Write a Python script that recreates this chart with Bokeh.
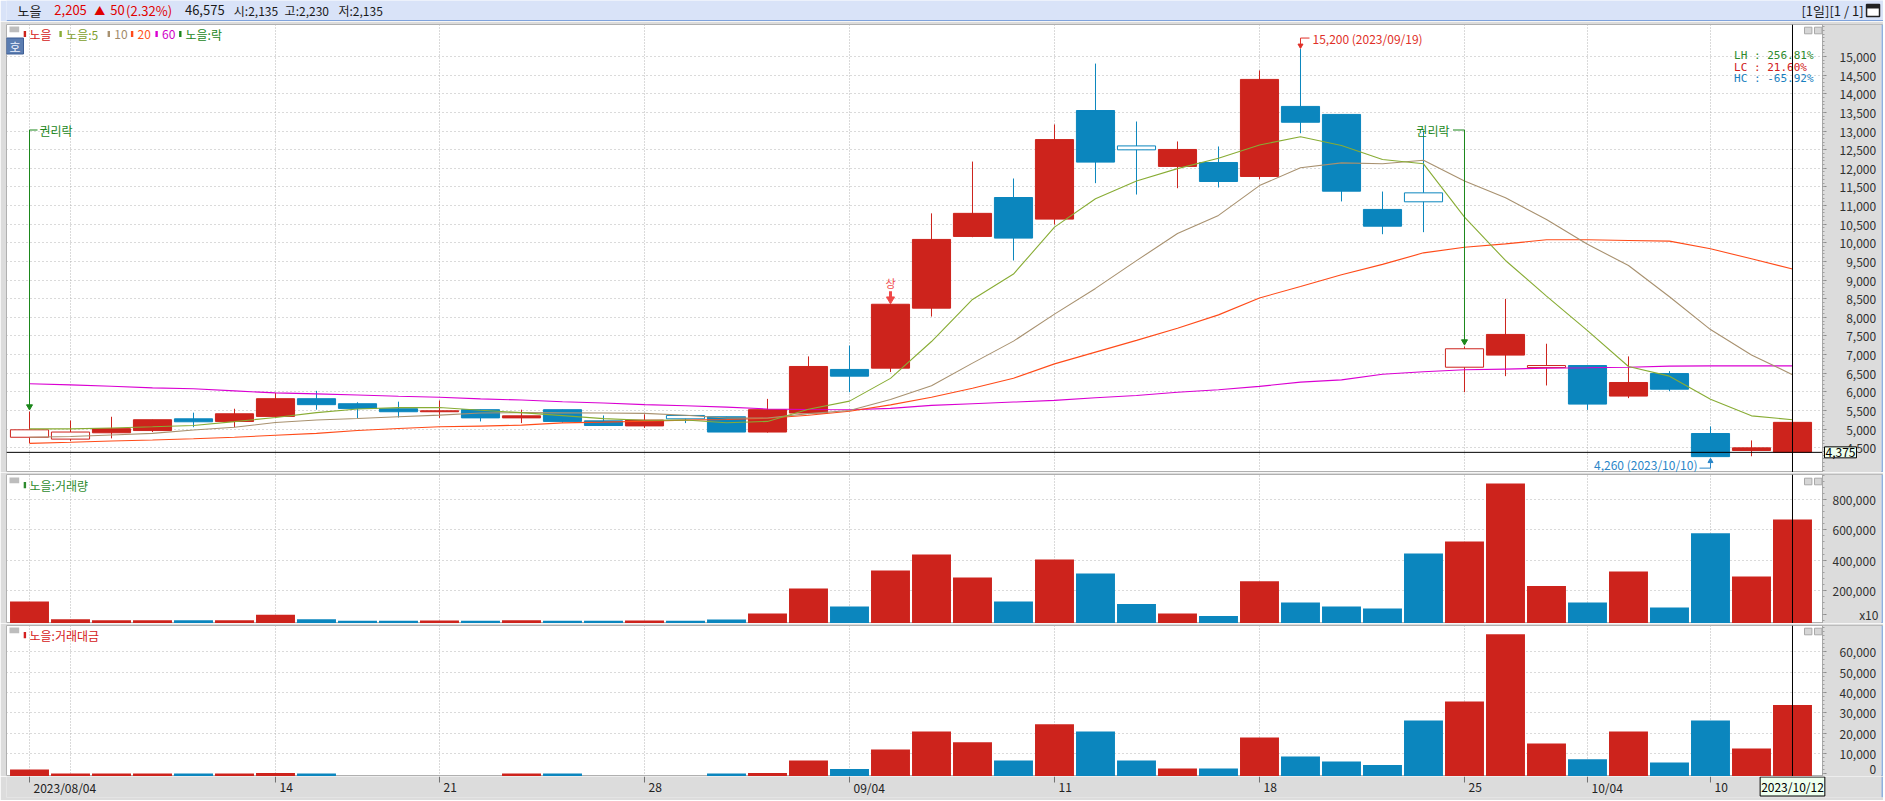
from bokeh.plotting import figure
from bokeh.layouts import column
from bokeh.models import Range1d, FixedTicker, Span, Label, Grid, ColumnDataSource
from bokeh.embed import file_html
from bokeh.resources import INLINE
from bokeh.core.properties import value

# ---------------- chart values ----------------
stock_name = "노을"
quote_price = "2,205"
quote_change = "50"
quote_pct = "(2.32%)"
quote_volume = "46,575"
quote_open = "시:2,135"
quote_high = "고:2,230"
quote_low = "저:2,135"
page_info = "[1일][1 / 1]"

dates = ["2023/08/04", "2023/08/07", "2023/08/08", "2023/08/09", "2023/08/10", "2023/08/11",
         "2023/08/14", "2023/08/16", "2023/08/17", "2023/08/18",
         "2023/08/21", "2023/08/22", "2023/08/23", "2023/08/24", "2023/08/25",
         "2023/08/28", "2023/08/29", "2023/08/30", "2023/08/31", "2023/09/01",
         "2023/09/04", "2023/09/05", "2023/09/06", "2023/09/07", "2023/09/08",
         "2023/09/11", "2023/09/12", "2023/09/13", "2023/09/14", "2023/09/15",
         "2023/09/18", "2023/09/19", "2023/09/20", "2023/09/21", "2023/09/22",
         "2023/09/25", "2023/09/26", "2023/09/27",
         "2023/10/04", "2023/10/05", "2023/10/06",
         "2023/10/10", "2023/10/11", "2023/10/12"]

opens = [4780, 4730, 4900, 4960, 5275, 5205, 5340, 5815, 5680, 5545,
         5465, 5520, 5300, 5520, 5220, 5085, 5365, 5330, 4920, 5430,
         6600, 6635, 8245, 10170, 11215, 10635, 13550, 12600, 12050, 12155,
         11780, 13660, 13445, 10895, 11340, 6660, 6985, 6650, 6705, 5885,
         6490, 4880, 4425, 4380]
highs = [5470, 5230, 5330, 5250, 5440, 5545, 5970, 6025, 5720, 5735,
         5765, 5520, 5520, 5520, 5365, 5395, 5365, 5330, 5810, 6950,
         7240, 8350, 10790, 12180, 11725, 13175, 14810, 13255, 12720, 12585,
         14625, 15200, 13445, 11375, 13015, 7215, 8495, 7290, 6705, 6950,
         6555, 5070, 4695, 5440]
lows = [4620, 4680, 4750, 4920, 5050, 5050, 5310, 5520, 5295, 5310,
        5300, 5205, 5160, 5170, 5095, 5030, 5160, 4920, 4905, 5400,
        5990, 6530, 8020, 10150, 9525, 10490, 11600, 11295, 11465, 11485,
        11700, 12940, 11110, 10230, 10285, 5990, 6420, 6170, 5515, 5830,
        6015, 4260, 4270, 4380]
closes = [4980, 4920, 5010, 5250, 5195, 5410, 5815, 5655, 5555, 5465,
          5490, 5300, 5355, 5205, 5095, 5240, 5275, 4920, 5520, 6680,
          6420, 8350, 10090, 10790, 10125, 12770, 12165, 12495, 12505, 11645,
          14385, 13235, 11385, 10445, 11100, 7155, 7540, 6705, 5670, 6250,
          6070, 4260, 4495, 5180]
hollow = [1, 1, 0, 0, 0, 0, 0, 0, 0, 0,
          0, 0, 0, 0, 0, 0, 1, 0, 0, 0,
          0, 0, 0, 0, 0, 0, 0, 1, 0, 0,
          0, 0, 0, 0, 1, 1, 0, 1, 0, 0,
          0, 0, 0, 0]

ma5 = [5005, 5005, 5030, 5060, 5095, 5200, 5310, 5440, 5540, 5575,
       5580, 5505, 5440, 5360, 5280, 5235, 5245, 5170, 5205, 5530,
       5750, 6360, 7350, 8480, 9160, 10420, 11180, 11660, 11990, 12270,
       12625, 12845, 12610, 12235, 12120, 10690, 9525, 8570, 7640, 6680,
       6420, 5800, 5355, 5250]
ma10 = [4780, 4800, 4840, 4885, 4975, 5050, 5175, 5245, 5285, 5330,
        5375, 5430, 5440, 5435, 5430, 5420, 5370, 5295, 5295, 5415,
        5500, 5795, 6160, 6770, 7360, 8085, 8775, 9520, 10250, 10735,
        11535, 12015, 12145, 12120, 12215, 11660, 11210, 10625, 9960, 9390,
        8550, 7670, 6990, 6460]
ma20 = [4615, 4645, 4680, 4705, 4740, 4780, 4835, 4885, 4960, 5015,
        5060, 5080, 5105, 5165, 5185, 5210, 5240, 5255, 5290, 5370,
        5480, 5650, 5855, 6095, 6365, 6750, 7065, 7380, 7705, 8065,
        8520, 8825, 9140, 9420, 9730, 9880, 9970, 10080, 10080, 10060,
        10045, 9840, 9570, 9295]
ma60 = [6215, 6185, 6150, 6105, 6080, 6025, 5970, 5945, 5915, 5880,
        5855, 5810, 5780, 5735, 5700, 5655, 5625, 5590, 5540, 5525,
        5520, 5555, 5635, 5680, 5725, 5770, 5840, 5900, 5990, 6055,
        6145, 6260, 6320, 6470, 6540, 6590, 6610, 6635, 6645, 6660,
        6690, 6697, 6697, 6697]

volume = [127000, 10000, 3000, 3000, 3000, 3000, 40000, 10000, 1000, 1000,
          1500, 1000, 3000, 1000, 1000, 1500, 1000, 8000, 48000, 213000,
          94000, 332000, 437000, 286000, 127000, 404000, 312000, 111000, 48000, 32000,
          261000, 121000, 94000, 81000, 444000, 523000, 905000, 229000, 121000, 325000,
          88000, 578000, 292000, 668000]
amount = [2100, 100, 100, 100, 100, 100, 400, 100, 0, 0,
          0, 0, 100, 100, 0, 0, 0, 100, 400, 6500,
          2400, 12000, 20800, 15500, 6600, 24400, 20800, 6600, 2600, 2600,
          17900, 8500, 6000, 4300, 26200, 35600, 68700, 14900, 7200, 20800,
          5500, 26200, 12500, 33800]

price_ticks = [4500, 5000, 5500, 6000, 6500, 7000, 7500, 8000, 8500, 9000, 9500, 10000,
               10500, 11000, 11500, 12000, 12500, 13000, 13500, 14000, 14500, 15000]
volume_ticks = [200000, 400000, 600000, 800000]
volume_unit_label = "x10"
amount_ticks = [0, 10000, 20000, 30000, 40000, 50000, 60000]
date_tick_idx = [0, 6, 10, 15, 20, 25, 30, 35, 38, 41]
date_tick_labels = ["2023/08/04", "14", "21", "28", "09/04", "11", "18", "25", "10/04", "10"]
week_grid_idx = [0, 1, 6, 10, 15, 20, 25, 30, 35, 38, 41]

legend_price = ["노을", "노을:5", "10", "20", "60", "노을:락"]
legend_volume = "노을:거래량"
legend_amount = "노을:거래대금"
stat_lines = ["LH : 256.81%", "LC :  21.60%", "HC : -65.92%"]
rights_idx = [0, 35]
rights_text = "권리락"
limit_up_idx = 21
limit_up_text = "상"
period_high_idx = 31
period_high_label = "15,200 (2023/09/19)"
period_low_idx = 41
period_low_label = "4,260 (2023/10/10)"
cross_idx = 43
cross_price = 4375
cross_price_label = "4,375"
cross_date_label = "2023/10/12"

# ---------------- style / layout ----------------
KR = "Noto Sans CJK KR"
MONO = "DejaVu Sans Mono"
RED = "#CD231C"
BLUE = "#0B86BE"
C_MA5 = "#88AC34"
C_MA10 = "#A8916F"
C_MA20 = "#FF4B19"
C_MA60 = "#DA00D2"
GREEN_TXT = "#1B871B"
GRID = "#B4B4B4"
AXBG = "#DCDCDC"
EDGE = "#8FB0E0"
LABEL_BG = "#EEFFEE"

W = 1883
BL = 6            # left border
PW = 1816         # plot area width (candles)
AX = 59           # axis area width
H_TOP = 21
H_PRICE, BT_PRICE = 451, 3
H_VOL, H_AMT, BT = 151, 153, 2
H_DATE = 24
X0, X1 = -0.561, 43.732
UX = (X1 - X0) / PW
XA = X1 + AX * UX                 # end of axis area
XE = X0 + (W - BL) * UX           # end of frame (incl. window edge)
P0, P1 = 3834, 15859
V0, V1 = -17800, 964700
A0, A1 = -1330, 72950
xr = Range1d(X0, XE)
n = len(dates)
idx = list(range(n))

FSP, PSP = "\u2007", "\u2008"


def padded(v, widest):
    s = v if isinstance(v, str) else f"{v:,}"
    nd = sum(ch.isdigit() for ch in widest) - sum(ch.isdigit() for ch in s)
    nc = widest.count(",") - s.count(",")
    return FSP * max(nd, 0) + PSP * max(nc, 0) + s


class Mapper:
    def __init__(self, fh, y0, y1):
        self.fh, self.y0, self.y1 = fh, y0, y1
        self.uy = (y1 - y0) / fh

    def x(self, px):
        return X0 + px * UX

    def xr(self, px):
        return X1 - px * UX

    def y(self, py):
        return self.y1 - py * self.uy


def txt(p, x, y, s, color, size="12px", align="left", baseline="middle", font=KR, x_offset=0):
    p.text(x=[x], y=[y], text=[s], text_color=color, text_font=value(font),
           text_font_size=size, text_align=align, text_baseline=baseline, x_offset=x_offset)


def base_fig(h, bt, y0, y1, ticks, minors, overrides, grid_ticks, standoff):
    p = figure(width=W, height=h, x_range=xr, y_range=Range1d(y0, y1),
               output_backend="svg", toolbar_location=None,
               x_axis_location=None, y_axis_location="right",
               min_border_left=BL, min_border_right=0, min_border_top=bt, min_border_bottom=0)
    p.background_fill_color = "white"
    p.border_fill_color = AXBG
    p.outline_line_color = "#B0B0B0"
    for g in list(p.center):
        if isinstance(g, Grid):
            g.visible = False
    p.add_layout(Grid(dimension=0, ticker=FixedTicker(ticks=week_grid_idx),
                      grid_line_color=GRID, grid_line_dash="1 2"))
    p.add_layout(Grid(dimension=1, ticker=FixedTicker(ticks=grid_ticks),
                      grid_line_color=GRID, grid_line_dash="1 3"))
    # axis area background and window edge
    p.quad(left=[X1], right=[XA], top=[y1], bottom=[y0], fill_color=AXBG, line_color=None)
    p.quad(left=[XA], right=[XE], top=[y1], bottom=[y0], fill_color=EDGE, line_color=None)
    ax = p.yaxis[0]
    ax.fixed_location = X1
    ax.ticker = FixedTicker(ticks=ticks, minor_ticks=minors)
    ax.major_label_overrides = overrides
    ax.major_label_text_font = KR
    ax.major_label_text_font_size = "12px"
    ax.major_label_text_color = "#303030"
    ax.axis_line_color = "#A8A8A8"
    ax.major_tick_line_color = "#8C8C8C"
    ax.major_tick_out = 4
    ax.major_tick_in = 0
    ax.minor_tick_line_color = "#A0A0A0"
    ax.minor_tick_out = 2
    ax.minor_tick_in = 0
    ax.major_label_standoff = standoff
    return p


def panel_icons(p, m, top_px):
    p.quad(left=[m.x(3)], right=[m.x(12.7)], top=[m.y(top_px)], bottom=[m.y(top_px + 5.7)],
           fill_color="#BDBDBD", line_color=None)
    for a, b in [(18, 10.6), (8, 0.6)]:
        p.quad(left=[m.xr(a)], right=[m.xr(b)], top=[m.y(top_px + 0.7)], bottom=[m.y(top_px + 7.3)],
               fill_color="#D6D6D6", line_color="#A8A8A8", line_width=1)


col = [RED if c >= o else BLUE for o, c in zip(opens, closes)]

# ---------------- top bar ----------------
pt = figure(width=W, height=H_TOP, x_range=Range1d(0, W), y_range=Range1d(0, H_TOP),
            output_backend="svg", toolbar_location=None, x_axis_location=None, y_axis_location=None,
            min_border_left=0, min_border_right=0, min_border_top=0, min_border_bottom=0)
pt.background_fill_color = "#D9E3F8"
pt.border_fill_color = "#D9E3F8"
pt.outline_line_color = None
pt.grid.visible = False
pt.segment(x0=[0], y0=[0.8], x1=[W], y1=[0.8], line_color="#7FA3DC", line_width=1.5)
for xp, s, c, sz in [(11, stock_name, "#1A1A1A", "13px"), (48, quote_price, "#E00000", "13px"),
                     (88, "▲", "#E00000", "11px"), (104, quote_change, "#E00000", "13px"),
                     (120, quote_pct, "#E00000", "13px"), (179, quote_volume, "#1A1A1A", "13px"),
                     (228, quote_open, "#1A1A1A", "12px"), (279, quote_high, "#1A1A1A", "12px"),
                     (333, quote_low, "#1A1A1A", "12px")]:
    txt(pt, xp, 11.5, s, c, size=sz)
txt(pt, 1863, 11.5, page_info, "#1A1A1A", size="13px", align="right")
pt.quad(left=[1866], right=[1879], bottom=[5], top=[17], fill_color="white", line_color="#222222", line_width=1.5)
pt.quad(left=[1866], right=[1879], bottom=[13], top=[17], fill_color="#222222", line_color=None)

# ---------------- price panel ----------------
PFH = H_PRICE - BT_PRICE
mp = Mapper(PFH, P0, P1)
po = {t: padded(t, "15,000") for t in price_ticks}
pp = base_fig(H_PRICE, BT_PRICE, P0, P1, price_ticks, list(range(3900, 15900, 100)), po, price_ticks, 13)

fill = ["white" if hv else cc for hv, cc in zip(hollow, col)]
top = [max(o, c) for o, c in zip(opens, closes)]
bot = [min(o, c) for o, c in zip(opens, closes)]
src = ColumnDataSource(dict(x=idx, lo=lows, hi=highs, top=top, bot=bot, col=col, fill=fill))
pp.segment(x0="x", y0="lo", x1="x", y1="hi", line_color="col", line_width=1, source=src)
pp.vbar(x="x", width=0.93, top="top", bottom="bot", fill_color="fill", line_color="col",
        line_width=1, source=src)
for ys, c in [(ma60, C_MA60), (ma20, C_MA20), (ma10, C_MA10), (ma5, C_MA5)]:
    pp.line(idx, ys, line_color=c, line_width=1.1)

panel_icons(pp, mp, 2)
leg_cols = [RED, C_MA5, C_MA10, C_MA20, C_MA60, GREEN_TXT]
leg_txt_cols = ["#D42020", "#7D9E2A", "#A08A6A", "#FF5522", "#D000C8", GREEN_TXT]
leg_mark_x = [17.2, 52.9, 101.1, 124.4, 148.9, 172.6]
leg_text_x = [23, 59.6, 107.8, 131, 155.6, 179]
for s, mc, tc, mx, tx in zip(legend_price, leg_cols, leg_txt_cols, leg_mark_x, leg_text_x):
    pp.quad(left=[mp.x(mx)], right=[mp.x(mx + 2.4)], top=[mp.y(6.5)], bottom=[mp.y(12.5)],
            fill_color=mc, line_color=None)
    txt(pp, mp.x(tx), mp.y(9.6), s, tc)
pp.quad(left=[mp.x(0)], right=[mp.x(17)], top=[mp.y(13.5)], bottom=[mp.y(29.5)],
        fill_color="#5B7DB1", line_color="#3F5F95", line_width=1)
txt(pp, mp.x(8.5), mp.y(21.5), "호", "#EEF3FF", size="12px", align="center")

for s, c, py in zip(stat_lines, ["#2E8B2E", "#D02020", "#1A7FC0"], [31, 43, 54]):
    txt(pp, mp.xr(9), mp.y(py), s, c, size="11px", align="right", font=MONO)

lab_y = mp.y(105.5)
for k, i in enumerate(rights_idx):
    tip = highs[i] + 2 * mp.uy
    pp.segment(x0=[i], y0=[lab_y], x1=[i], y1=[tip + 3 * mp.uy], line_color=GREEN_TXT, line_width=1)
    pp.scatter([i], [tip + 3 * mp.uy], marker="inverted_triangle", size=6,
               fill_color=GREEN_TXT, line_color=GREEN_TXT)
    if k == 0:
        pp.segment(x0=[i], y0=[lab_y], x1=[i + 8 * UX], y1=[lab_y], line_color=GREEN_TXT, line_width=1)
        txt(pp, i, lab_y, rights_text, GREEN_TXT, x_offset=10)
    else:
        pp.segment(x0=[i - 11.5 * UX], y0=[lab_y], x1=[i], y1=[lab_y], line_color=GREEN_TXT, line_width=1)
        txt(pp, i, lab_y, rights_text, GREEN_TXT, align="right", x_offset=-15)

i = limit_up_idx
tip = highs[i] + 2 * mp.uy
pp.segment(x0=[i], y0=[tip + 5 * mp.uy], x1=[i], y1=[tip + 11 * mp.uy], line_color="#F04848", line_width=3)
pp.scatter([i], [tip + 3 * mp.uy], marker="inverted_triangle", size=8, fill_color="#F04848", line_color="#F04848")
txt(pp, i, tip + 19 * mp.uy, limit_up_text, "#F04848", size="11px", align="center")

i = period_high_idx
tip = highs[i] + 1 * mp.uy
lvl = tip + 10 * mp.uy
pp.segment(x0=[i], y0=[lvl], x1=[i], y1=[tip + 3 * mp.uy], line_color="#E03028", line_width=1)
pp.scatter([i], [tip + 2.5 * mp.uy], marker="inverted_triangle", size=5, fill_color="#E03028", line_color="#E03028")
pp.segment(x0=[i], y0=[lvl], x1=[i + 9 * UX], y1=[lvl], line_color="#E03028", line_width=1)
txt(pp, i, lvl, period_high_label, "#E03028", x_offset=12)

i = period_low_idx
tip = lows[i] - 2 * mp.uy
lvl = tip - 9.5 * mp.uy
pp.segment(x0=[i], y0=[lvl], x1=[i], y1=[tip - 3 * mp.uy], line_color="#2A86C8", line_width=1)
pp.scatter([i], [tip - 2.5 * mp.uy], marker="triangle", size=5, fill_color="#2A86C8", line_color="#2A86C8")
pp.segment(x0=[i - 11 * UX], y0=[lvl], x1=[i], y1=[lvl], line_color="#2A86C8", line_width=1)
txt(pp, i, tip - 6 * mp.uy, period_low_label, "#2A86C8", align="right", x_offset=-13)

# crosshair
pp.segment(x0=[X0], y0=[cross_price], x1=[X1], y1=[cross_price], line_color="black", line_width=1)
pp.add_layout(Span(location=cross_idx, dimension="height", line_color="black", line_width=1))
pp.add_layout(Label(x=X1, y=cross_price, text=cross_price_label, x_offset=2, text_align="left",
                    text_baseline="middle", text_font=KR, text_font_size="12px", text_color="black",
                    background_fill_color=LABEL_BG, border_line_color="black", border_line_width=1,
                    padding=1))

# ---------------- volume panel ----------------
VFH = H_VOL - BT
mv = Mapper(VFH, V0, V1)
vo = {t: padded(t, "800,000") for t in volume_ticks}
vo[41500] = FSP * 4 + volume_unit_label
pv = base_fig(H_VOL, BT, V0, V1, volume_ticks + [41500], list(range(0, 980000, 40000)), vo, volume_ticks, 6)
pv.vbar(x=idx, width=0.95, top=volume, bottom=[V0 if v > 0 else 0 for v in volume],
        fill_color=col, line_color=None)
panel_icons(pv, mv, 3)
pv.quad(left=[mv.x(17.2)], right=[mv.x(19.6)], top=[mv.y(7.5)], bottom=[mv.y(13.7)],
        fill_color="#2E8B2E", line_color=None)
txt(pv, mv.x(23), mv.y(10.5), legend_volume, "#2E8B2E")
pv.segment(x0=[cross_idx], y0=[V0], x1=[cross_idx], y1=[V1], line_color="black", line_width=1)

# ---------------- amount panel ----------------
AFH = H_AMT - BT
ma = Mapper(AFH, A0, A1)
ao = {t: padded(t, "60,000") for t in amount_ticks}
pa = base_fig(H_AMT, BT, A0, A1, amount_ticks, list(range(0, 74000, 2000)), ao, amount_ticks[1:], 13)
pa.vbar(x=idx, width=0.95, top=amount, bottom=[A0 if v > 0 else 0 for v in amount],
        fill_color=col, line_color=None)
panel_icons(pa, ma, 2)
pa.quad(left=[ma.x(17.2)], right=[ma.x(19.6)], top=[ma.y(6.5)], bottom=[ma.y(12.7)],
        fill_color="#D42020", line_color=None)
txt(pa, ma.x(23), ma.y(9.5), legend_amount, "#D42020")
pa.segment(x0=[cross_idx], y0=[A0], x1=[cross_idx], y1=[A1], line_color="black", line_width=1)

# ---------------- date strip ----------------
pdt = figure(width=W, height=H_DATE, x_range=xr, y_range=Range1d(0, 21),
             output_backend="svg", toolbar_location=None, x_axis_location=None, y_axis_location=None,
             min_border_left=BL, min_border_right=0, min_border_top=0, min_border_bottom=3)
pdt.background_fill_color = AXBG
pdt.border_fill_color = AXBG
pdt.outline_line_color = None
pdt.grid.visible = False
pdt.quad(left=[XA], right=[XE], top=[21], bottom=[0], fill_color=EDGE, line_color=None)
pdt.segment(x0=date_tick_idx, y0=[21] * len(date_tick_idx), x1=date_tick_idx,
            y1=[15] * len(date_tick_idx), line_color="#707070", line_width=1)
pdt.text(x=date_tick_idx, y=[10] * len(date_tick_idx), text=date_tick_labels, text_color="#222222",
         text_font=value(KR), text_font_size="12px", text_align="left", text_baseline="middle",
         x_offset=4)
pdt.add_layout(Label(x=cross_idx, y=11, text=cross_date_label, text_align="center",
                     text_baseline="middle", text_font=KR, text_font_size="12px", text_color="black",
                     background_fill_color=LABEL_BG, border_line_color="black", border_line_width=1,
                     padding=1))

layout = column(pt, pp, pv, pa, pdt, spacing=0)
with open("out.html", "w", encoding="utf-8") as f:
    f.write(file_html(layout, INLINE, "노을"))
